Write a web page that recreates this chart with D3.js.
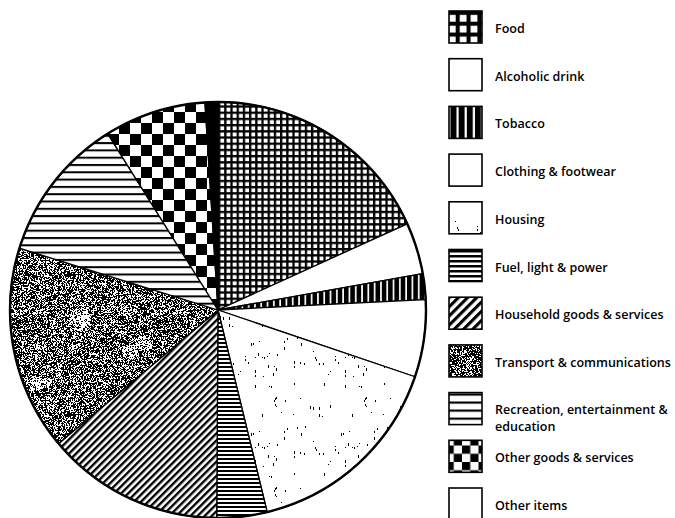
<!DOCTYPE html>
<html><head><meta charset="utf-8">
<script src="https://cdn.jsdelivr.net/npm/d3@7"></script>
<style>html,body{margin:0;background:#fff}svg{display:block}</style>
</head><body><svg id="chart" width="675" height="518"></svg>
<script>
// Household expenditure shares (%), clockwise from 12 o'clock
const categories = ["Food", "Alcoholic drink", "Tobacco", "Clothing & footwear", "Housing",
  "Fuel, light & power", "Household goods & services", "Transport & communications",
  "Recreation, entertainment & education", "Other goods & services", "Other items"];
const shares = [18.2, 4.0, 2.0, 6.0, 16.0, 3.9, 13.8, 15.9, 11.3, 7.9, 1.0];
const legendLabels = [["Food"], ["Alcoholic drink"], ["Tobacco"], ["Clothing & footwear"], ["Housing"],
  ["Fuel, light & power"], ["Household goods & services"], ["Transport & communications"],
  ["Recreation, entertainment &", "education"], ["Other goods & services"], ["Other items"]];
// hatch style per category (same order)
const fills = ["grid", "blank", "vbars", "blank", "specks", "hlinesFine", "diag", "stipple", "hlinesWide", "checker", "solid"];
const legendFills = ["grid", "blank", "vbars", "blank", "specks", "hlinesFine", "diag", "stipple", "hlinesWide", "checker", "blank"];

const svg = d3.select("#chart");
const defs = svg.append("defs");

// small seeded generator for the print textures
function mulberry32(a) {
  return function () {
    a |= 0; a = a + 0x6D2B79F5 | 0;
    let t = Math.imul(a ^ a >>> 15, 1 | a);
    t = t + Math.imul(t ^ t >>> 7, 61 | t) ^ t;
    return ((t ^ t >>> 14) >>> 0) / 4294967296;
  };
}
function noiseTile(size, seed, painter) {
  const c = document.createElement("canvas");
  c.width = size; c.height = size;
  const ctx = c.getContext("2d");
  ctx.fillStyle = "#fff"; ctx.fillRect(0, 0, size, size);
  ctx.fillStyle = "#000";
  painter(ctx, mulberry32(seed), size);
  return c.toDataURL("image/png");
}
const stippleURL = noiseTile(140, 7, (ctx, rnd, n) => {
  const spots = d3.range(6).map(() => [rnd() * n, rnd() * n, 4 + rnd() * 7]);
  for (let y = 0; y < n; y++) for (let x = 0; x < n; x++) {
    let p = 0.6;
    for (const [sx, sy, sr] of spots) {
      const dx = Math.min(Math.abs(x - sx), n - Math.abs(x - sx));
      const dy = Math.min(Math.abs(y - sy), n - Math.abs(y - sy));
      if (dx * dx + dy * dy < sr * sr) p = 0.32;
    }
    if (rnd() < p) ctx.fillRect(x, y, 1, 1);
  }
});
const specksURL = noiseTile(90, 11, (ctx, rnd, n) => {
  for (let i = 0; i < 60; i++) {
    const x = Math.floor(rnd() * n), y = Math.floor(rnd() * n);
    const h = 1 + Math.floor(rnd() * 3);
    ctx.fillRect(x, y, 1, h);
  }
});

function makePattern(id, kind, scale) {
  const p = defs.append("pattern").attr("id", id).attr("patternUnits", "userSpaceOnUse");
  let tr = `scale(${scale})`;
  const rect = (x, y, w, h, c) => p.append("rect").attr("x", x).attr("y", y).attr("width", w).attr("height", h).attr("fill", c);
  if (kind === "grid") {
    p.attr("width", 6.2).attr("height", 6.2);
    rect(0, 0, 6.2, 6.2, "#fff"); rect(0, 0, 2.3, 6.2, "#000"); rect(0, 0, 6.2, 2.3, "#000");
  } else if (kind === "vbars") {
    p.attr("width", 6.3).attr("height", 10);
    rect(0, 0, 6.3, 10, "#fff"); rect(0, 0, 4.6, 10, "#000");
  } else if (kind === "hlinesFine") {
    p.attr("width", 10).attr("height", 4);
    rect(0, 0, 10, 4, "#fff"); rect(0, 0, 10, 2, "#000");
  } else if (kind === "hlinesWide") {
    p.attr("width", 10).attr("height", 7.3);
    rect(0, 0, 10, 7.3, "#fff"); rect(0, 0, 10, 2, "#000");
  } else if (kind === "diag") {
    p.attr("width", 5).attr("height", 5);
    rect(0, 0, 5, 5, "#fff"); rect(0, 0, 2.4, 5, "#000");
    tr = `rotate(45) scale(${scale})`;
  } else if (kind === "checker") {
    p.attr("width", 22).attr("height", 22);
    rect(0, 0, 22, 22, "#fff"); rect(0, 0, 11, 11, "#000"); rect(11, 11, 11, 11, "#000");
  } else if (kind === "stipple") {
    p.attr("width", 140).attr("height", 140);
    p.append("image").attr("href", stippleURL).attr("width", 140).attr("height", 140).style("image-rendering", "pixelated");
  } else if (kind === "specks") {
    p.attr("width", 90).attr("height", 90);
    p.append("image").attr("href", specksURL).attr("width", 90).attr("height", 90).style("image-rendering", "pixelated");
  }
  p.attr("patternTransform", tr);
  return `url(#${id})`;
}
function fillFor(kind, id, scale) {
  if (kind === "blank") return "#fff";
  if (kind === "solid") return "#000";
  return makePattern(id, kind, scale);
}

// ---- pie ----
const cx = 218, cy = 310, R = 208;
const pie = d3.pie().sort(null).value(d => d.value);
const arc = d3.arc().innerRadius(0).outerRadius(R);
const data = categories.map((c, i) => ({ name: c, value: shares[i], fill: fills[i] }));
const g = svg.append("g").attr("transform", `translate(${cx},${cy})`);
g.selectAll("path.slice").data(pie(data)).join("path")
  .attr("class", "slice")
  .attr("d", arc)
  .attr("fill", (d, i) => fillFor(d.data.fill, "pie-" + i, 1))
  .attr("stroke", "#000").attr("stroke-width", 1.3).attr("stroke-linejoin", "round");
g.append("circle").attr("r", R).attr("fill", "none").attr("stroke", "#000").attr("stroke-width", 2.4);

// ---- legend ----
const legendScales = { grid: 1.75, vbars: 1.3, hlinesFine: 1.25, hlinesWide: 1.1, diag: 1.3, checker: 0.75, stipple: 1, specks: 1 };
const rowY = d3.scaleLinear().domain([0, categories.length - 1]).range([27, 504]);
const leg = svg.append("g").attr("font-family", "'Open Sans', sans-serif").attr("font-size", 12.5)
  .attr("font-weight", 600).attr("fill", "#000");
legendLabels.forEach((lines, i) => {
  const y = rowY(i);
  const kind = legendFills[i];
  leg.append("rect").attr("x", 449).attr("y", y - 16).attr("width", 33).attr("height", 32)
    .attr("fill", fillFor(kind, "leg-" + i, legendScales[kind] || 1))
    .attr("stroke", "#000").attr("stroke-width", 1.6);
  lines.forEach((s, k) => {
    leg.append("text").attr("x", 495)
      .attr("y", lines.length > 1 ? y + 1 + k * 17 : y + 1.5)
      .attr("dominant-baseline", "central")
      .text(s);
  });
});
</script></body></html>
